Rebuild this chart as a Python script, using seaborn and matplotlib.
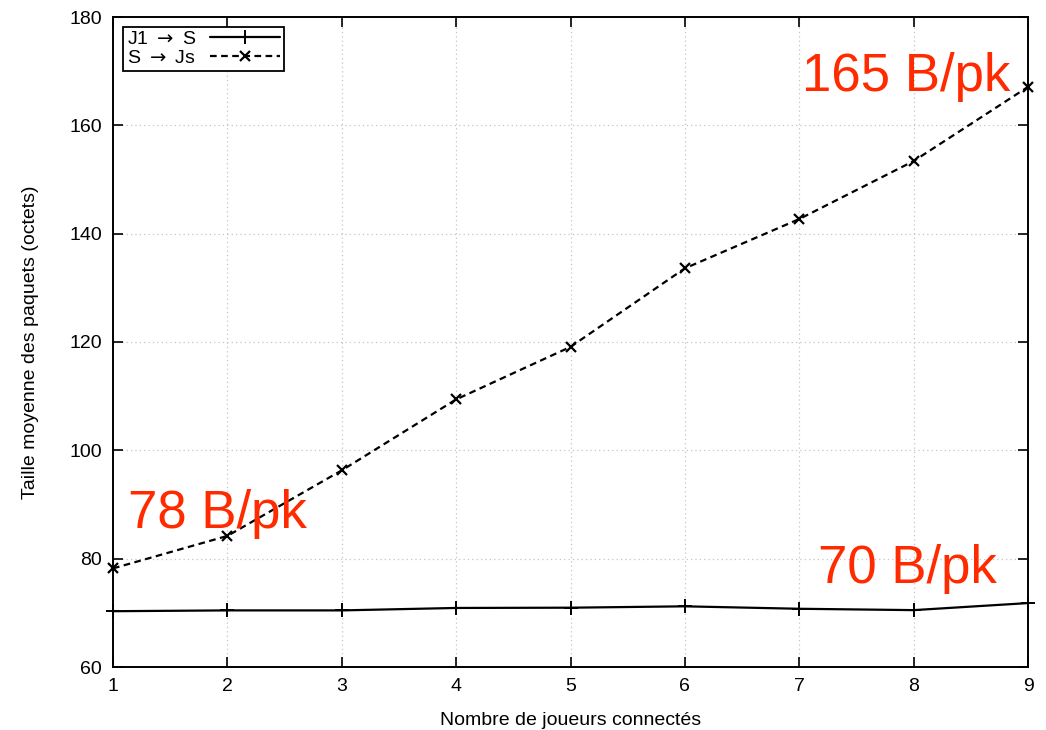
import matplotlib
matplotlib.use("Agg")
import matplotlib.pyplot as plt
import seaborn as sns
import pandas as pd

# Number of connected players
players = [1, 2, 3, 4, 5, 6, 7, 8, 9]
# Mean packet size (bytes), client -> server
client_to_server = [70.3, 70.45, 70.45, 70.9, 70.95, 71.2, 70.75, 70.5, 71.8]
# Mean packet size (bytes), server -> clients
server_to_clients = [78.2, 84.2, 96.3, 109.4, 119.1, 133.6, 142.7, 153.4, 167.1]

series_labels = [r"J1 $\rightarrow$ S", r"S $\rightarrow$ Js"]
y_ticks = [60, 80, 100, 120, 140, 160, 180]
notes = ["165 B/pk", "78 B/pk", "70 B/pk"]

sns.set_theme(style="white")
plt.rcParams["font.family"] = ["Liberation Sans", "DejaVu Sans"]
plt.rcParams["mathtext.fontset"] = "dejavusans"

fig = plt.figure(figsize=(10.46, 7.30), dpi=100)
ax = fig.add_axes([113 / 1046, 1 - 667 / 730, 915 / 1046, 650 / 730])

df_a = pd.DataFrame({"x": players, "y": client_to_server})
df_b = pd.DataFrame({"x": players, "y": server_to_clients})

sns.lineplot(data=df_a, x="x", y="y", ax=ax, color="black", linewidth=1.6,
             marker="+", markersize=10, markeredgewidth=1.4,
             markeredgecolor="black", label=series_labels[0], clip_on=False)
sns.lineplot(data=df_b, x="x", y="y", ax=ax, color="black", linewidth=1.6,
             marker="x", markersize=7.5, markeredgewidth=1.6,
             markeredgecolor="black", label=series_labels[1], clip_on=False)
ax.lines[1].set_dashes([3, 2])

ax.set_xlim(1, 9)
ax.set_ylim(60, 180)
ax.set_xticks(players)
ax.set_yticks(y_ticks)
ax.grid(True, color="#c4c4c4", linestyle=(0, (1, 2.5)), linewidth=0.9)

for side in ["left", "right", "top", "bottom"]:
    ax.spines[side].set_visible(True)
    ax.spines[side].set_color("black")
    ax.spines[side].set_linewidth(1.4)

ax.tick_params(axis="both", which="major", direction="in", length=7, width=1.2,
               top=True, right=True, bottom=True, left=True,
               labelsize=14, colors="black", pad=8)

ax.set_xlabel("Nombre de joueurs connect\u00e9s", fontsize=14, labelpad=12,
              color="black")
ax.set_ylabel("Taille moyenne des paquets (octets)", fontsize=14, labelpad=22,
              color="black")

leg = ax.legend(loc="upper left", markerfirst=False, fontsize=14,
                frameon=True, fancybox=False, handlelength=3.6,
                borderpad=0.2, labelspacing=0.05, handletextpad=0.7,
                borderaxespad=0.5)
leg.get_frame().set_edgecolor("black")
leg.get_frame().set_linewidth(1.3)
leg.get_frame().set_alpha(1)
for t in leg.get_texts():
    t.set_color("black")

red = "#ff2a00"
ax.text(7.02, 166.3, notes[0], color=red, fontsize=38, ha="left", va="baseline")
ax.text(1.13, 85.7, notes[1], color=red, fontsize=38, ha="left", va="baseline")
ax.text(7.16, 75.5, notes[2], color=red, fontsize=38, ha="left", va="baseline")

fig.savefig("out.png", dpi=100)
